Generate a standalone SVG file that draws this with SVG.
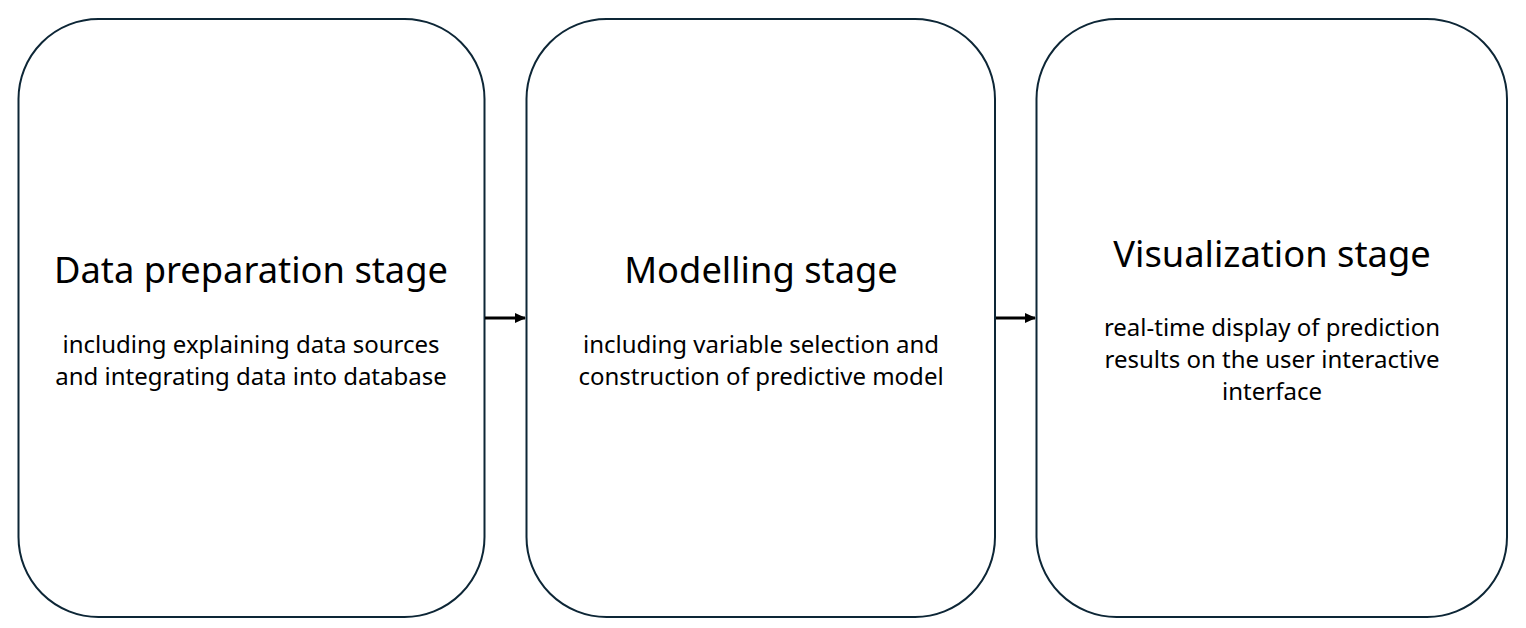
<svg xmlns="http://www.w3.org/2000/svg" width="1526" height="628" viewBox="0 0 1526 628">
<style>
.box{fill:#ffffff;stroke:#0d2636;stroke-width:2}
.t{font-family:"Noto Sans","Liberation Sans",sans-serif;font-size:36.3px;fill:#000;text-anchor:middle}
.s{font-family:"Noto Sans","Liberation Sans",sans-serif;font-size:24px;fill:#000;text-anchor:middle}
.c{stroke:#000;stroke-width:3;fill:none}
</style>
<defs>
<marker id="ah" markerWidth="11" markerHeight="10" refX="10" refY="5" orient="auto" markerUnits="userSpaceOnUse">
<path d="M0,0 L11,5 L0,10 Z" fill="#000"/>
</marker>
</defs>
<rect width="1526" height="628" fill="#fff"/>
<g id="node-data">
<rect class="box" x="18.5" y="19" width="466" height="598" rx="80" ry="80"/>
<text class="t" x="251" y="283">Data preparation stage</text>
<text class="s" x="251" y="353">including explaining data sources</text>
<text class="s" x="251" y="385">and integrating data into database</text>
</g>
<g id="node-model">
<rect class="box" x="526.5" y="19" width="468.5" height="598" rx="80" ry="80"/>
<text class="t" x="761" y="283">Modelling stage</text>
<text class="s" x="761" y="353">including variable selection and</text>
<text class="s" x="761" y="385">construction of predictive model</text>
</g>
<g id="node-vis">
<rect class="box" x="1036.5" y="19" width="470.5" height="598" rx="80" ry="80"/>
<text class="t" x="1272" y="267">Visualization stage</text>
<text class="s" x="1272" y="336">real-time display of prediction</text>
<text class="s" x="1272" y="368">results on the user interactive</text>
<text class="s" x="1272" y="400">interface</text>
</g>
<g id="connectors">
<line class="c" x1="485" y1="318" x2="525" y2="318" marker-end="url(#ah)"/>
<line class="c" x1="996" y1="318" x2="1035" y2="318" marker-end="url(#ah)"/>
</g>
</svg>
